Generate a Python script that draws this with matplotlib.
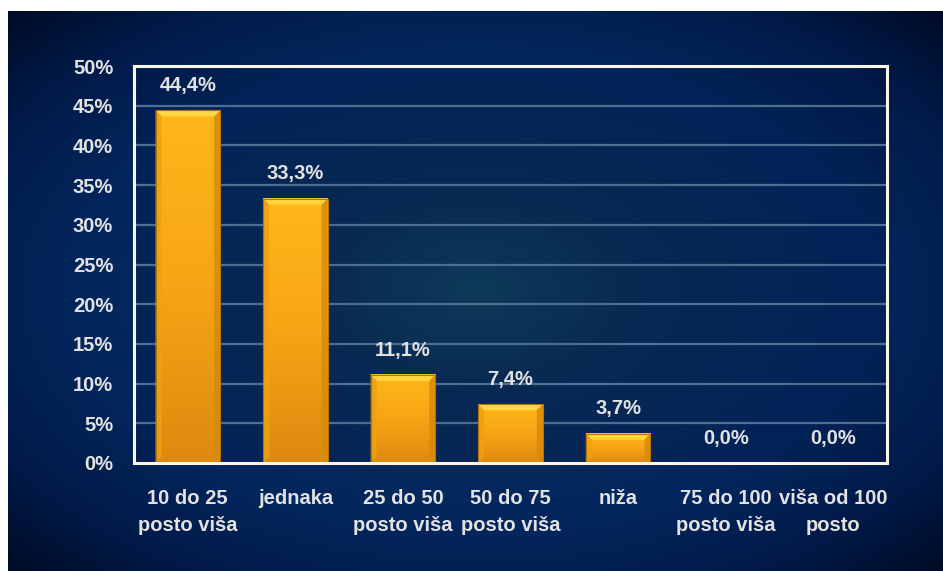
import numpy as np
import matplotlib
matplotlib.use("Agg")
import matplotlib.pyplot as plt
from matplotlib.patches import Polygon, Rectangle
from matplotlib.colors import LinearSegmentedColormap
from matplotlib import font_manager

categories = ["10 do 25\nposto viša", "jednaka", "25 do 50\nposto viša", "50 do 75\nposto viša",
              "niža", "75 do 100\nposto viša", "viša od 100\nposto"]
values = [44.4, 33.3, 11.1, 7.4, 3.7, 0.0, 0.0]
value_labels = ["44,4%", "33,3%", "11,1%", "7,4%", "3,7%", "0,0%", "0,0%"]
yticks = [0, 5, 10, 15, 20, 25, 30, 35, 40, 45, 50]
ytick_labels = [f"{t}%" for t in yticks]

names = {f.name for f in font_manager.fontManager.ttflist}
fam = [f for f in ["Liberation Sans Narrow", "Liberation Sans", "DejaVu Sans"] if f in names]
plt.rcParams['font.family'] = fam

W, H = 943, 571
fig = plt.figure(figsize=(W / 100, H / 100), dpi=100)
fig.patch.set_facecolor("white")

# background gradient
bg = fig.add_axes([8 / W, 0, (W - 8) / W, (H - 11) / H])
bg.set_axis_off()
nx, ny = 400, 240
xx, yy = np.meshgrid(np.linspace(0, 1, nx), np.linspace(0, 1, ny))
cx, cy = 0.50, 0.50
d = np.sqrt(((xx - cx) / 0.55) ** 2 + ((yy - cy) / 0.55) ** 2)
cmap = LinearSegmentedColormap.from_list("bg", [
    (0.0, "#10405e"), (0.25, "#0a2d57"), (0.58, "#03275e"), (0.81, "#011a48"), (1.0, "#000b24")])
bg.imshow(np.clip(d / 1.3, 0, 1), cmap=cmap, vmin=0, vmax=1, aspect="auto",
          extent=[0, 1, 0, 1], origin="lower", interpolation="bilinear")
bg.set_xlim(0, 1); bg.set_ylim(0, 1)

left, right, top, bottom = 134, 887, 66, 463
ax = fig.add_axes([left / W, (H - bottom) / H, (right - left) / W, (bottom - top) / H])
ax.set_facecolor((0.0, 0.05, 0.2, 0.12))
x = np.arange(len(categories))
ax.set_xlim(-0.5, len(categories) - 0.5)
ax.set_ylim(0, 50)

for t in yticks[1:-1]:
    ax.axhline(t, color="#4d6f92", lw=1.6, zorder=1)

bw = 0.6
px_x = (len(categories)) / (right - left)
px_y = 50 / (bottom - top)
bev = 6
grad_cmap = LinearSegmentedColormap.from_list("bar", ["#dd8a10", "#f7a514", "#ffb71a"])
for xi, v in zip(x, values):
    if v <= 0:
        continue
    x0, x1 = xi - bw / 2, xi + bw / 2
    g = np.linspace(0, 1, 100).reshape(-1, 1)
    ax.imshow(g, cmap=grad_cmap, aspect="auto", extent=[x0, x1, 0, v], origin="lower", zorder=3)
    bx, by = bev * px_x, bev * px_y
    # bevels
    ax.add_patch(Polygon([[x0, v], [x1, v], [x1 - bx, v - by], [x0 + bx, v - by]],
                         closed=True, facecolor="#ffd642", edgecolor="none", zorder=4))
    ax.add_patch(Polygon([[x0, v], [x0 + bx, v - by], [x0 + bx, by], [x0, 0]],
                         closed=True, facecolor="#f0a010", edgecolor="none", zorder=4, alpha=0.85))
    ax.add_patch(Polygon([[x1, v], [x1 - bx, v - by], [x1 - bx, by], [x1, 0]],
                         closed=True, facecolor="#d88a0c", edgecolor="none", zorder=4, alpha=0.85))
    ax.add_patch(Rectangle((x0, 0), x1 - x0, v, facecolor="none", edgecolor="#b5740a", lw=0.8, zorder=5))

for xi, v, lab in zip(x, values, value_labels):
    ax.annotate(lab, (xi, v), xytext=(0, 11), textcoords="offset points", ha="center", va="bottom",
                fontsize=14.5, fontweight="bold", color="#e2e2e2", zorder=6)

for s in ax.spines.values():
    s.set_color("#fdf6e6")
    s.set_linewidth(2.2)
    s.set_zorder(7)

ax.set_yticks(yticks)
ax.set_yticklabels(ytick_labels)
ax.set_xticks(x)
ax.set_xticklabels(categories)
ax.tick_params(axis="y", length=0, pad=15, labelsize=14.5, labelcolor="#e2e2e2")
ax.tick_params(axis="x", length=0, pad=19, labelsize=14.5, labelcolor="#e2e2e2")
for lab in ax.get_xticklabels() + ax.get_yticklabels():
    lab.set_fontweight("bold")
for lab in ax.get_xticklabels():
    lab.set_linespacing(1.5)

fig.savefig("out.png", dpi=100, facecolor=fig.get_facecolor())
